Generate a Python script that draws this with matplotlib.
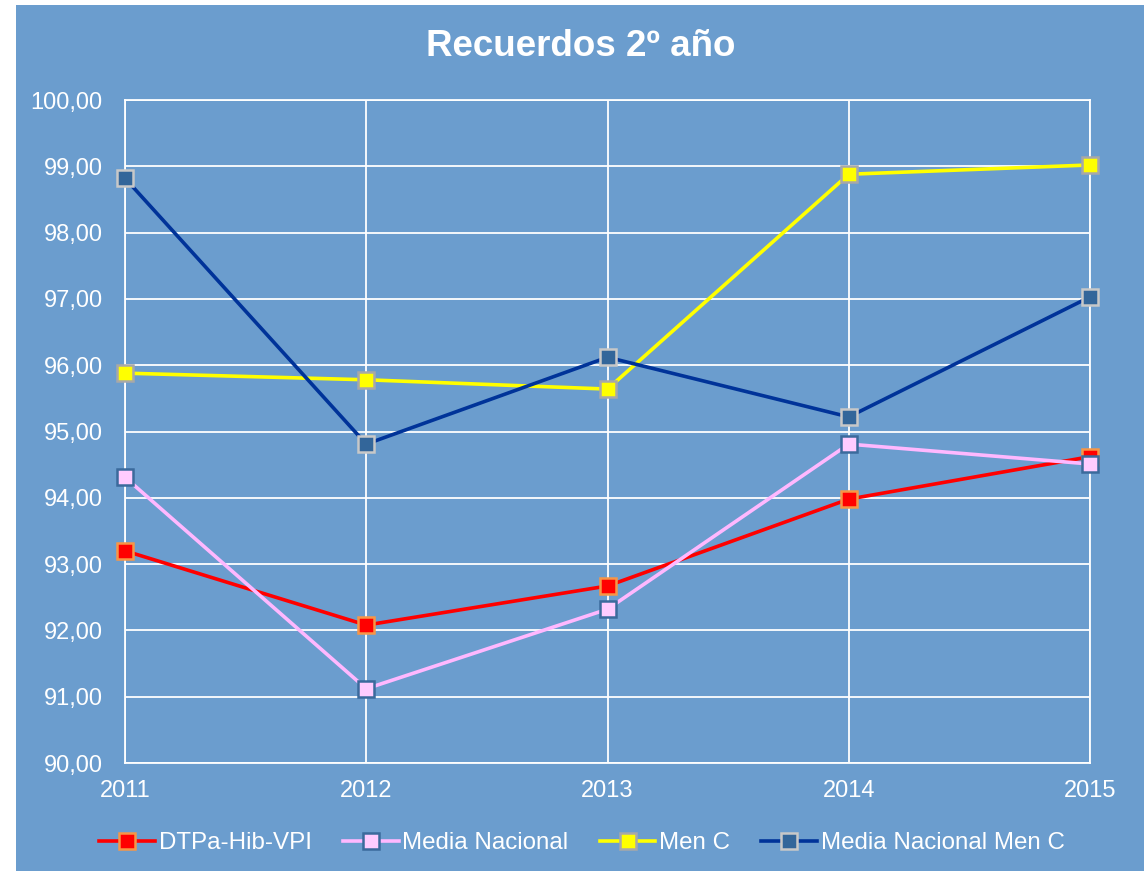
import matplotlib.pyplot as plt
from matplotlib.patches import Rectangle
from matplotlib.ticker import FuncFormatter

plt.rcParams["font.family"] = ["Liberation Sans", "DejaVu Sans"]

years = [2011, 2012, 2013, 2014, 2015]
dtpa = [93.20, 92.08, 92.67, 93.98, 94.62]
media_nacional = [94.31, 91.12, 92.32, 94.81, 94.51]
men_c = [95.88, 95.78, 95.64, 98.88, 99.02]
media_men_c = [98.82, 94.81, 96.12, 95.22, 97.03]

series = [
    ("DTPa-Hib-VPI", dtpa, "#FF0000", "#FF0000", "#F79646"),
    ("Media Nacional", media_nacional, "#FFB8FF", "#FFCCFF", "#3B6A9C"),
    ("Men C", men_c, "#FFFF00", "#FFFF00", "#A8A8A8"),
    ("Media Nacional Men C", media_men_c, "#003399", "#33669A", "#C8C8C8"),
]

bg = "#6B9DCE"

fig = plt.figure(figsize=(11.44, 8.71), dpi=100)
fig.patch.set_facecolor("white")
fig.patches.append(Rectangle((16 / 1144, 0), 1, 1 - 5 / 871, transform=fig.transFigure,
                             facecolor=bg, edgecolor="none", zorder=-10))

ax = fig.add_axes([125 / 1144, 108 / 871, 965 / 1144, 663 / 871])
ax.set_facecolor(bg)

for name, vals, lc, fc, ec in series:
    ax.plot(years, vals, color=lc, lw=2.6, marker="s", markersize=11,
            markerfacecolor=fc, markeredgecolor=ec, markeredgewidth=1.8,
            label=name, clip_on=False, zorder=3)

ax.set_xlim(2011, 2015)
ax.set_ylim(90, 100)
ax.set_xticks(years)
ax.set_yticks(range(90, 101))
ax.yaxis.set_major_formatter(FuncFormatter(lambda v, p: f"{v:.2f}".replace(".", ",")))
ax.grid(True, color="white", lw=1.3)
ax.set_axisbelow(True)
for s in ax.spines.values():
    s.set_color("white")
    s.set_linewidth(1.3)
ax.tick_params(length=0, labelcolor="white", labelsize=17)
ax.tick_params(axis="y", pad=16)
ax.tick_params(axis="x", pad=12)

fig.text(581 / 1144, 1 - 47 / 871, "Recuerdos 2º año", color="white",
         fontsize=26.5, fontweight="bold", ha="center", va="center")

leg = fig.legend(loc="center", bbox_to_anchor=(582 / 1144, 1 - 843 / 871), ncol=4,
                 frameon=False, fontsize=17.4, handlelength=2.3, handletextpad=0.15,
                 columnspacing=1.3, labelcolor="white")

fig.savefig("out.png", dpi=100, facecolor=fig.get_facecolor())
